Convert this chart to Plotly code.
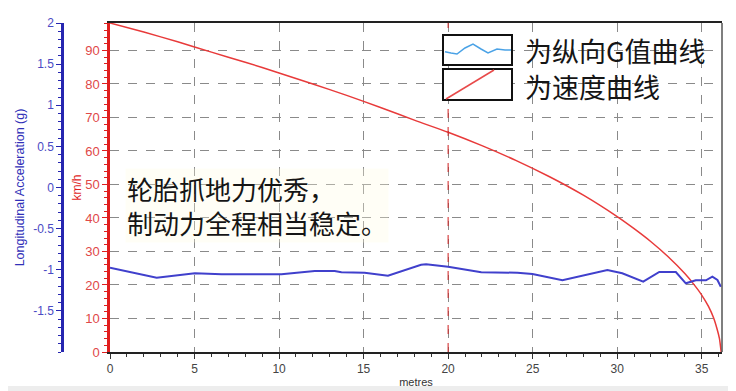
import plotly.graph_objects as go

# ---- data ----
speed_x = [0, 2, 4, 6, 8, 10, 12, 14, 16, 18, 20, 22, 24, 26, 28, 30, 31, 32, 33,
           34, 34.5, 35, 35.4, 35.7, 35.9, 36.05, 36.15]
speed_v = [98.2, 95.5, 92.6, 89.5, 86.5, 83.3, 80.0, 76.6, 73.0, 69.2, 65.6, 61.6,
           57.2, 52.3, 46.8, 40.4, 36.8, 32.9, 28.5, 23.4, 20.4, 17.0, 13.6, 10.2,
           7.0, 4.0, 0]

acc_x = [0, 2.76, 5.02, 6.6, 10.14, 12.11, 13.29, 13.69, 15.06, 16.44, 18.4, 18.7,
         20.0, 21.96, 24.1, 24.99, 26.76, 29.42, 30.3, 31.54, 32.49, 33.47, 34.06,
         34.65, 35.25, 35.63, 35.93, 36.13]
acc_g = [-0.975, -1.097, -1.043, -1.055, -1.055, -1.015, -1.015, -1.031, -1.036,
         -1.072, -0.94, -0.934, -0.963, -1.031, -1.036, -1.052, -1.128, -1.003,
         -1.043, -1.145, -1.027, -1.027, -1.165, -1.128, -1.128, -1.085, -1.125, -1.206]

x_ticks = [0, 5, 10, 15, 20, 25, 30, 35]
speed_ticks = [0, 10, 20, 30, 40, 50, 60, 70, 80, 90]
acc_ticks = [-1.5, -1, -0.5, 0, 0.5, 1, 1.5, 2]
acc_labels = ["-1.5", "-1", "-0.5", "0", "0.5", "1", "1.5", "2"]

legend_labels = ["为纵向G值曲线", "为速度曲线"]
note_lines = ["轮胎抓地力优秀，", "制动力全程相当稳定。"]

# page body has an 8px default margin; size the figure so it fits the 736x391 window
OFF = 8
W, H = 736 - OFF, 391 - OFF
TOP, BOT = 23, 352          # plot top / bottom in window pixels


def px(xp):
    return (xp - OFF) / W


def py(yp):
    return (BOT - yp) / (BOT - TOP)


BLUE_AX = "#2626b0"
RED_AX = "#e01e1e"
GRID = "#8a8a8a"
FONT = "Liberation Sans, Arial, sans-serif"
CJK = "Noto Sans CJK SC"

fig = go.Figure()
fig.add_trace(go.Scatter(x=speed_x, y=speed_v, mode="lines", yaxis="y",
                         line=dict(color="#e83a3a", width=1.5, shape="spline", smoothing=0.6),
                         showlegend=False))
fig.add_trace(go.Scatter(x=acc_x, y=acc_g, mode="lines", yaxis="y2",
                         line=dict(color="#4040cc", width=2), showlegend=False))

fig.update_layout(
    width=W, height=H,
    margin=dict(l=0, r=0, t=TOP - OFF, b=(H + OFF) - BOT, autoexpand=False),
    paper_bgcolor="white", plot_bgcolor="white",
    showlegend=False,
    xaxis=dict(
        domain=[px(110), px(722)], range=[0, 36.2], automargin=False,
        tickvals=x_ticks, ticktext=[str(v) for v in x_ticks],
        showgrid=True, gridcolor=GRID, griddash="dash", gridwidth=1,
        zeroline=False, showline=True, linecolor="#222", linewidth=1.5, mirror=True,
        ticks="outside", ticklen=5, tickcolor="#333",
        minor=dict(dtick=1, ticks="outside", ticklen=3, tickcolor="#333", showgrid=False),
        tickfont=dict(family=FONT, size=12, color="#444"),
        title=dict(text="metres", font=dict(family=FONT, size=11, color="#333"), standoff=3),
    ),
    yaxis=dict(
        range=[0, 98.2], tickvals=speed_ticks, ticktext=[str(v) for v in speed_ticks],
        automargin=False,
        showgrid=True, gridcolor=GRID, griddash="dash", gridwidth=1,
        zeroline=False, showline=True, linecolor=RED_AX, linewidth=2.5,
        ticks="outside", ticklen=5, tickcolor=RED_AX,
        minor=dict(dtick=2, ticks="outside", ticklen=3, tickcolor=RED_AX, showgrid=False),
        tickfont=dict(family=FONT, size=13, color="#e04848"),
        title=dict(text="km/h", font=dict(family=FONT, size=12, color=RED_AX), standoff=1),
    ),
    yaxis2=dict(
        range=[-2, 2], overlaying="y", anchor="free", position=px(62), side="left",
        tickvals=acc_ticks, ticktext=acc_labels, automargin=False,
        showgrid=False, zeroline=False, showline=True, linecolor=BLUE_AX, linewidth=2.5,
        ticks="outside", ticklen=5, tickcolor=BLUE_AX,
        minor=dict(dtick=0.1, ticks="outside", ticklen=3, tickcolor=BLUE_AX, showgrid=False),
        tickfont=dict(family=FONT, size=12, color="#4a4ac4"),
        title=dict(text="Longitudinal Acceleration (g)",
                   font=dict(family=FONT, size=12.5, color="#3030b8"), standoff=4),
    ),
)

shapes = []
# red dashed vertical line at 20 m
shapes.append(dict(type="line", xref="x", yref="paper", x0=20, x1=20, y0=0, y1=1,
                   line=dict(color="#d02020", width=1, dash="dash"), layer="above"))
# right border
shapes.append(dict(type="line", xref="paper", yref="paper", x0=px(722), x1=px(722), y0=0, y1=1,
                   line=dict(color="#555", width=1.5)))
# bottom grey band
shapes.append(dict(type="rect", xref="paper", yref="paper", x0=0, x1=1, y0=py(391), y1=py(386),
                   fillcolor="#ededed", line=dict(width=0), layer="below"))
# legend boxes
for (y0, y1) in [(35, 65), (69, 100)]:
    shapes.append(dict(type="rect", xref="paper", yref="paper", x0=px(443), x1=px(512),
                       y0=py(y1), y1=py(y0), fillcolor="white",
                       line=dict(color="#111", width=2), layer="above"))
# wavy blue sample
wave = [(445, 51.7), (451, 53), (457, 54), (465, 48), (473, 44), (481, 49), (488, 53),
        (497, 49), (505, 50), (511, 50)]
path = "M " + " L ".join(f"{px(a):.5f},{py(b):.5f}" for a, b in wave)
shapes.append(dict(type="path", xref="paper", yref="paper", path=path,
                   line=dict(color="#4aa2e6", width=1.5), layer="above"))
# red diagonal sample
shapes.append(dict(type="line", xref="paper", yref="paper", x0=px(446), y0=py(99),
                   x1=px(494), y1=py(70), line=dict(color="#e84a4a", width=1.5), layer="above"))

fig.update_layout(shapes=shapes)

annotations = []
for label, yc in zip(legend_labels, [50, 86]):
    annotations.append(dict(text=label, xref="paper", yref="paper", x=px(523), y=py(yc),
                            xanchor="left", yanchor="middle", showarrow=False,
                            font=dict(family=CJK, size=27, color="#151515")))
annotations.append(dict(text="<br>".join(note_lines), xref="paper", yref="paper",
                        x=px(125), y=py(205), xanchor="left", yanchor="middle", align="left",
                        showarrow=False, bgcolor="rgba(255,252,225,0.3)",
                        font=dict(family=CJK, size=26, color="#151515")))
fig.update_layout(annotations=annotations)

fig.write_html("out.html")
